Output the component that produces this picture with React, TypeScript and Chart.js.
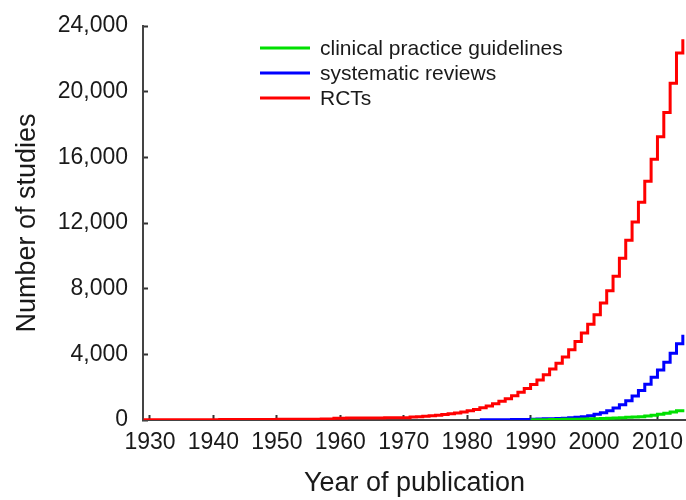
import React, { useEffect, useRef } from 'react';
import { Chart, registerables } from 'chart.js';

Chart.register(...registerables);

// Cumulative number of studies by year of publication
const rctStartYear = 1929;
const rctValues = [
  10, 10, 10, 12, 12, 14, 15, 16, 18, 20,
  20, 22, 24, 25, 26, 28, 30, 32, 34, 36,
  38, 40, 42, 44, 46, 48, 50, 52, 55, 58,
  110, 112, 115, 118, 120, 122, 125, 128, 130, 132, 135, 138,
  180, 200, 225, 255, 295, 335, 380, 430, 490, 560,
  640, 740, 860, 990, 1140, 1300, 1480, 1690, 1920, 2170,
  2440, 2750, 3100, 3460, 3830, 4275, 4780, 5300, 5840, 6410,
  7130, 7880, 8750, 9850, 10950, 12060, 13270, 14550, 15880, 17260,
  18730, 20520, 22350, 23200,
];

const srStartYear = 1982;
const srValues = [
  10, 12, 15, 18, 22, 26, 30, 35, 50, 60,
  70, 80, 95, 110, 130, 160, 200, 265, 350, 445,
  570, 730, 935, 1180, 1465, 1790, 2180, 2600, 3050, 3520,
  4070, 4640, 5190,
];

const cpgStartYear = 1990;
const cpgValues = [
  10, 15, 20, 25, 30, 40, 45, 50, 60, 70,
  80, 95, 110, 125, 140, 160, 180, 200, 245, 290,
  350, 410, 490, 570, 650,
];

const seriesLabels = ['clinical practice guidelines', 'systematic reviews', 'RCTs'];
const seriesColors = ['#00e000', '#0000ff', '#ff0000'];
const xTickYears = [1930, 1940, 1950, 1960, 1970, 1980, 1990, 2000, 2010];
const yTickValues = [0, 4000, 8000, 12000, 16000, 20000, 24000];

const FONT = '"Liberation Sans", Arial, Helvetica, sans-serif';

const toPoints = (start: number, vals: number[]) => vals.map((v, i) => ({ x: start + i, y: v }));

const insideLegend = {
  id: 'insideLegend',
  afterDraw(chart: any) {
    const ctx = chart.ctx;
    ctx.save();
    chart.data.datasets.forEach((ds: any, i: number) => {
      const y = 48 + i * 25;
      ctx.strokeStyle = ds.borderColor;
      ctx.lineWidth = 3;
      ctx.beginPath();
      ctx.moveTo(260, y);
      ctx.lineTo(310, y);
      ctx.stroke();
      ctx.fillStyle = '#1a1a1a';
      ctx.font = `21px ${FONT}`;
      ctx.textBaseline = 'middle';
      ctx.textAlign = 'left';
      ctx.fillText(ds.label, 320, y + 1);
    });
    ctx.restore();
  },
};

export default function App() {
  const ref = useRef<HTMLCanvasElement | null>(null);

  useEffect(() => {
    if (!ref.current) return;
    const series = [
      toPoints(cpgStartYear, cpgValues),
      toPoints(srStartYear, srValues),
      toPoints(rctStartYear, rctValues),
    ];
    const chart = new Chart(ref.current, {
      type: 'line',
      data: {
        datasets: series.map((pts, i) => ({
          label: seriesLabels[i],
          data: pts,
          borderColor: seriesColors[i],
          backgroundColor: seriesColors[i],
          borderWidth: 3,
          pointRadius: 0,
          stepped: true,
          fill: false,
        })),
      },
      options: {
        animation: false,
        responsive: false,
        devicePixelRatio: 1,
        layout: { padding: { top: 26, right: 0, left: 0, bottom: 0 } },
        plugins: {
          legend: { display: false },
          tooltip: { enabled: false },
        },
        scales: {
          x: {
            type: 'linear',
            min: 1928.9,
            max: 2014.5,
            afterBuildTicks: (scale: any) => {
              scale.ticks = xTickYears.map((v) => ({ value: v }));
            },
            afterFit: (scale: any) => {
              scale.height = 80;
              scale.paddingLeft = 0;
              scale.paddingRight = 0;
            },
            grid: { drawOnChartArea: false, drawTicks: true, tickLength: -5, tickWidth: 2, color: '#333' },
            border: { display: true, width: 2, color: '#444' },
            ticks: {
              autoSkip: false,
              maxRotation: 0,
              padding: 14,
              color: '#1a1a1a',
              font: { family: FONT, size: 23 },
              callback: (v: any) => String(v),
            },
            title: {
              display: true,
              text: 'Year of publication',
              color: '#1a1a1a',
              font: { family: FONT, size: 27 },
              padding: { top: 0, bottom: 0 },
            },
          },
          y: {
            type: 'linear',
            min: 0,
            max: 24000,
            afterBuildTicks: (scale: any) => {
              scale.ticks = yTickValues.map((v) => ({ value: v }));
            },
            afterFit: (scale: any) => {
              scale.width = 143;
              scale.paddingTop = 0;
              scale.paddingBottom = 0;
            },
            grid: { drawOnChartArea: false, drawTicks: true, tickLength: -5, tickWidth: 2, color: '#333' },
            border: { display: true, width: 2, color: '#444' },
            ticks: {
              padding: 20,
              color: '#1a1a1a',
              font: { family: FONT, size: 23 },
              callback: (v: any) => Number(v).toLocaleString('en-US'),
            },
            title: {
              display: true,
              text: 'Number of studies',
              color: '#1a1a1a',
              font: { family: FONT, size: 27 },
              padding: { top: 11, bottom: 0 },
            },
          },
        },
      },
      plugins: [insideLegend],
    });
    return () => chart.destroy();
  }, []);

  return (
    <div style={{ position: 'absolute', left: 0, top: 0, width: 686, height: 500, background: '#fff' }}>
      <canvas ref={ref} width={686} height={500} style={{ display: 'block' }} />
    </div>
  );
}
